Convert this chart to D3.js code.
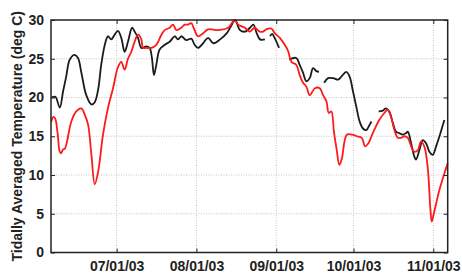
<!DOCTYPE html>
<html>
<head>
<meta charset="utf-8">
<script src="https://cdn.jsdelivr.net/npm/d3@7"></script>
<style>
  body { margin: 0; background: #fff; }
  svg { display: block; font-family: "Liberation Sans", Arial, sans-serif; font-weight: bold; }
</style>
</head>
<body>
<svg id="chart" width="462" height="276"></svg>
<script>
// days counted from 2003-06-01 (day 0); null marks a gap in the record
const blackDays = [4.7, 6.2, 7.9, 9.2, 10.4, 11.8, 13.7, 15.0, 16.3, 18.2, 20.2, 21.5, 22.8, 24.0, 25.4, 26.6,
  27.9, 29.2, 30.5, 31.8, 33.1, 34.4, 36.0, 37.0, 38.3, 39.6, 41.5, 42.8, 43.7, 44.5, 45.4, 46.7, 48.7, 50.6,
  52.6, 53.8, 55.1, 57.1, 59.0, 60.3, 61.6, 63.6, 65.5, 67.6, 70.2, 72.8, 74.4, 76.0, 77.9, 79.9, 81.8, 83.1,
  84.4, 85.7, 87.6, 88.6,
  89.6, 90.4, 91.5, 93.1, 95.0,
  97.0, 99.8, 101.1, 102.4, 103.7, 105.0, 106.3, 107.6, 108.6, 109.6,
  110.6, 112.1, 114.1, 116.0, 117.3, 119.2, 120.5, 121.8, 123.1, 124.4, 125.7, 127.0, 128.3, 129.0, 130.4,
  131.8, 133.4, 134.6, 135.9, 137.3, 138.5, 139.8, 141.1, 142.4, 143.1, 144.4, 145.6, 146.3, 147.6, 148.9,
  150.2, 151.5, 152.8, 154.1, 155.4, 157.3];
const blackTemps = [20.0, 20.1, 18.7, 20.8, 22.7, 24.9, 25.5, 25.1, 23.2, 20.3, 19.1, 19.4, 21.0, 24.2, 26.8, 27.9,
  27.5, 28.1, 28.6, 27.7, 25.9, 27.2, 29.0, 28.5, 27.7, 26.4, 26.6, 26.4, 25.1, 22.9, 24.2, 26.2, 26.8, 27.2,
  27.9, 27.5, 27.9, 27.4, 27.6, 26.8, 26.4, 27.0, 27.7, 27.0, 27.5, 28.3, 29.2, 30.0, 28.7, 28.5, 29.0, 29.4,
  28.3, 27.5, 27.5, null,
  27.9, 28.2, 27.6, 26.4, null,
  24.9, 25.1, 24.2, 23.2, 22.1, 22.5, 23.8, 23.4, 23.3, null,
  21.9, 22.5, 22.5, 22.3, 22.7, 23.3, 22.7, 20.8, 18.8, 16.9, 16.0, 15.8, 16.5, 16.9, null,
  18.2, 18.3, 18.6, 18.2, 16.7, 15.6, 15.4, 15.2, 15.4, 15.6, 14.1, 12.4, 12.0, 13.2, 14.5,
  14.1, 13.0, 12.6, 13.7, 15.0, 17.1];

const redDays = [4.6, 5.4, 6.1, 7.0, 7.9, 8.4, 9.2, 9.9, 10.7, 12.4, 14.3, 16.3, 17.6, 18.9, 20.2, 21.5, 22.8,
  24.7, 26.6, 28.6, 30.5, 31.8, 33.1, 34.4, 35.7, 37.0, 38.3, 39.6, 40.2, 41.5, 43.5, 45.4, 47.4, 48.7, 50.6,
  51.9, 53.2, 55.1, 56.4, 57.7, 59.0, 59.9, 61.6, 63.6, 65.5, 69.4, 73.3, 75.9, 77.2, 79.8, 81.7, 83.6, 85.6,
  86.9, 88.1, 90.1, 91.4, 93.4, 95.3, 96.6, 97.9, 99.8, 101.1, 102.4, 103.7, 105.0, 107.0, 108.9, 110.2, 111.5,
  112.4, 113.4, 114.4, 115.5, 116.5, 117.4, 119.4, 121.3, 123.3, 125.2, 126.5, 127.8, 129.5, 132.0, 134.0,
  135.3, 136.6, 137.9, 139.2, 140.5, 141.8, 143.1, 144.4, 145.6, 147.0, 148.2, 149.5, 150.8, 151.9, 152.4,
  153.4, 155.4, 157.3, 158.6];
const redTemps = [16.9, 17.5, 17.3, 15.6, 13.0, 12.8, 13.3, 13.4, 14.3, 16.9, 18.2, 18.6, 17.8, 16.5, 12.6, 8.8, 10.4,
  15.2, 18.6, 21.2, 23.9, 24.6, 23.6, 25.0, 25.9, 27.2, 28.1, 27.5, 26.4, 26.4, 26.4, 26.8, 28.1, 28.7, 29.0,
  29.4, 28.7, 29.0, 29.4, 29.4, 29.6, 29.0, 27.9, 28.3, 28.8, 28.7, 29.0, 30.0, 29.4, 29.0, 28.5, 29.0, 28.5,
  28.5, 28.8, 28.9, 28.3, 27.7, 26.8, 26.0, 24.6, 24.2, 22.9, 21.9, 21.4, 20.3, 21.2, 21.2, 20.3, 19.5,
  18.0, 18.2, 15.6, 13.2, 11.3, 12.0, 15.2, 15.2, 15.0, 14.8, 13.7, 14.1, 15.4, 17.1, 18.0,
  18.4, 17.5, 15.8, 14.8, 14.8, 15.0, 14.8, 13.7, 13.0, 13.2, 14.3, 13.7, 11.1, 5.5, 4.0,
  5.3, 8.1, 10.2, 11.5];

const monthTicks = ['2003-07-01', '2003-08-01', '2003-09-01', '2003-10-01', '2003-11-01'];
const tempTicks = [0, 5, 10, 15, 20, 25, 30];
const yTitle = 'Tidally Averaged Temperature (deg C)';

const start = Date.UTC(2003, 5, 1);
const toDate = (d) => new Date(start + d * 864e5);

const margin = { top: 20, right: 14.3, bottom: 23.5, left: 51 };
const width = 462, height = 276;

const svg = d3.select('#chart');

const x = d3.scaleUtc()
  .domain([toDate(4.5), toDate(158.6)])
  .range([margin.left, width - margin.right]);
const y = d3.scaleLinear()
  .domain([0, 30])
  .range([height - margin.bottom, margin.top]);

const xt = monthTicks.map((s) => new Date(s + 'T00:00:00Z'));
const fmt = d3.utcFormat('%m/%d/%y');

// dotted grid
const grid = svg.append('g')
  .attr('stroke', '#c4c4c4')
  .attr('stroke-width', 1)
  .attr('stroke-dasharray', '1,1.5');
grid.selectAll('.gx').data(xt).join('line')
  .attr('x1', (d) => x(d)).attr('x2', (d) => x(d))
  .attr('y1', y(30)).attr('y2', y(0));
grid.selectAll('.gy').data(tempTicks.slice(1, -1)).join('line')
  .attr('x1', x.range()[0]).attr('x2', x.range()[1])
  .attr('y1', (d) => y(d)).attr('y2', (d) => y(d));

// series
const line = d3.line()
  .defined((d) => d[1] != null)
  .x((d) => x(toDate(d[0])))
  .y((d) => y(d[1]))
  .curve(d3.curveCatmullRom);

svg.append('path')
  .datum(blackDays.map((d, i) => [d, blackTemps[i]]))
  .attr('fill', 'none')
  .attr('stroke', '#1c1c1c')
  .attr('stroke-width', 1.8)
  .attr('d', line);

svg.append('path')
  .datum(redDays.map((d, i) => [d, redTemps[i]]))
  .attr('fill', 'none')
  .attr('stroke', '#ff1a1a')
  .attr('stroke-width', 1.8)
  .attr('d', line);

// axes, ticks pointing in on all four sides
const tick = 4;
const axisStyle = (g) => {
  g.select('.domain').remove();
  g.selectAll('.tick line').attr('stroke', '#222').attr('stroke-width', 1);
  g.selectAll('.tick text').attr('fill', '#222').attr('font-size', 14).attr('font-weight', 'bold')
    .attr('font-family', '"Liberation Sans", Arial, sans-serif');
};

svg.append('g')
  .attr('transform', `translate(0,${y(0)})`)
  .call(d3.axisBottom(x).tickValues(xt).tickFormat(fmt).tickSizeInner(-tick).tickPadding(9))
  .call(axisStyle);
svg.append('g')
  .attr('transform', `translate(0,${y(30)})`)
  .call(d3.axisTop(x).tickValues(xt).tickFormat('').tickSizeInner(-tick))
  .call(axisStyle);
svg.append('g')
  .attr('transform', `translate(${x.range()[0]},0)`)
  .call(d3.axisLeft(y).tickValues(tempTicks).tickSizeInner(-tick).tickPadding(7))
  .call(axisStyle);
svg.append('g')
  .attr('transform', `translate(${x.range()[1]},0)`)
  .call(d3.axisRight(y).tickValues(tempTicks).tickFormat('').tickSizeInner(-tick))
  .call(axisStyle);

// frame
svg.append('rect')
  .attr('x', x.range()[0]).attr('y', y(30))
  .attr('width', x.range()[1] - x.range()[0])
  .attr('height', y(0) - y(30))
  .attr('fill', 'none')
  .attr('stroke', '#222')
  .attr('stroke-width', 1.5);

svg.append('text')
  .attr('transform', `translate(22,${(y(0) + y(30)) / 2}) rotate(-90)`)
  .attr('text-anchor', 'middle')
  .attr('font-size', 14)
  .attr('fill', '#222')
  .text(yTitle);
</script>
</body>
</html>
